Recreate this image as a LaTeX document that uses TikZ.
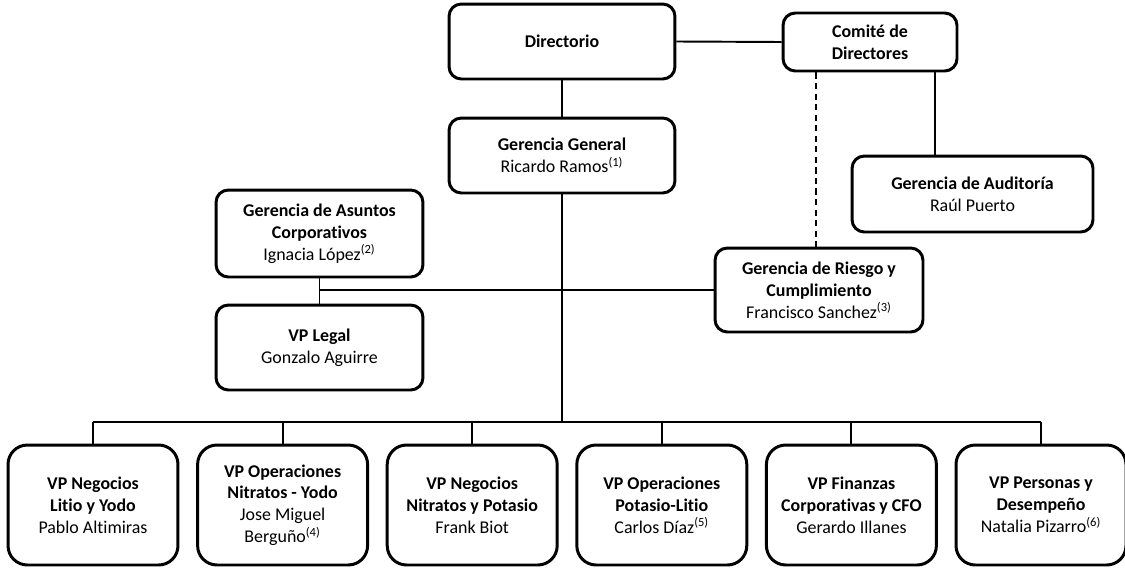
\documentclass[tikz,border=0pt]{standalone}
\usepackage{fontspec}
\setmainfont[Ligatures={NoCommon}]{Carlito}

\begin{document}
\begin{tikzpicture}[x=0.02cm, y=-0.02cm,
		caja/.style={draw, line width=1.7pt, rounded corners=7pt, align=center, inner sep=0pt, font=\fontsize{10.2}{12.4}\selectfont},
		cajavp/.style={caja, rounded corners=11pt, minimum width=3.4cm, minimum height=2.4cm},
		linea/.style={line width=1.1pt}]
		\useasboundingbox (0,0) rectangle (1125,568);
		% niveles superiores
		\node[caja, minimum width=4.52cm, minimum height=1.5cm] (dir) at (562,41.5) {\textbf{Directorio}};
		\node[caja, minimum width=3.48cm, minimum height=1.16cm] (comite) at (870,42) {\textbf{Comité de}\\\textbf{Directores}};
		\node[caja, minimum width=4.52cm, minimum height=1.5cm] (gg) at (562,155.5) {\textbf{Gerencia General}\\Ricardo Ramos\textsuperscript{(1)}};
		\node[caja, minimum width=4.82cm, minimum height=1.52cm] (audit) at (972.5,194) {\textbf{Gerencia de Auditoría}\\Raúl Puerto};
		\node[caja, minimum width=4.14cm, minimum height=1.74cm] (asuntos) at (319.5,233.5) {\textbf{Gerencia de Asuntos}\\\textbf{Corporativos}\\Ignacia López\textsuperscript{(2)}};
		\node[caja, minimum width=4.14cm, minimum height=1.7cm] (legal) at (319.5,347.5) {\textbf{VP Legal}\\Gonzalo Aguirre};
		\node[caja, minimum width=4.16cm, minimum height=1.68cm] (riesgo) at (819,290) {\textbf{Gerencia de Riesgo y}\\\textbf{Cumplimiento}\\Francisco Sanchez\textsuperscript{(3)}};
		
		% vicepresidencias
		\node[cajavp] (b1) at (93,505) {\textbf{VP Negocios}\\\textbf{Litio y Yodo}\\Pablo Altimiras};
		\node[cajavp] (b2) at (282.6,505) {\textbf{VP Operaciones}\\\textbf{Nitratos - Yodo}\\Jose Miguel\\Berguño\textsuperscript{(4)}};
		\node[cajavp] (b3) at (472.2,505) {\textbf{VP Negocios}\\\textbf{Nitratos y Potasio}\\Frank Biot};
		\node[cajavp] (b4) at (661.8,505) {\textbf{VP Operaciones}\\\textbf{Potasio-Litio}\\Carlos Díaz\textsuperscript{(5)}};
		\node[cajavp] (b5) at (851.4,505) {\textbf{VP Finanzas}\\\textbf{Corporativas y CFO}\\Gerardo Illanes};
		\node[cajavp] (b6) at (1041,505) {\textbf{VP Personas y}\\\textbf{Desempeño}\\Natalia Pizarro\textsuperscript{(6)}};
		
		\coordinate (bus) at (562,422);
		\coordinate (audtap) at (935,0);
		\coordinate (riesgotap) at (816,0);
		
		\draw[linea] (dir.east) -- (comite.west);
		\draw[linea] (dir) -- (gg);
		\draw[linea] (comite.south -| audtap) -- (audit.north -| audtap);
		\draw[line width=0.9pt, dash pattern=on 3.5pt off 2.5pt] (comite.south -| riesgotap) -- (riesgo.north -| riesgotap);
		\draw[linea] (gg.south) -- (bus);
		\draw[linea] (asuntos) -- (legal);
		\draw[linea] (legal.north |- riesgo.west) -- (riesgo.west);
		\draw[linea] (b1.north |- bus) -- (b6.north |- bus);
		\foreach \n in {b1,b2,b3,b4,b5,b6}
			\draw[linea] (\n.north) -- (\n.north |- bus);
	\end{tikzpicture}
\end{document}
